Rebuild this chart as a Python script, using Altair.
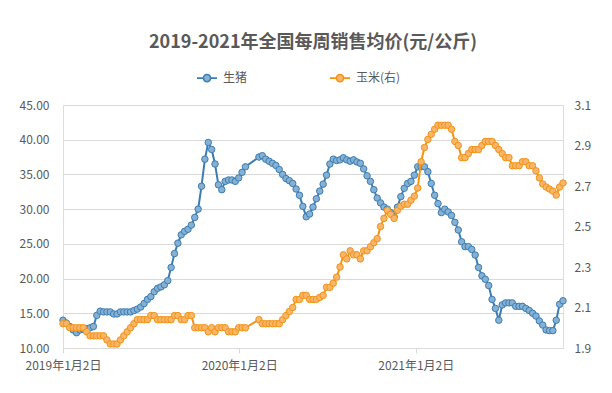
import altair as alt
import pandas as pd

# weekly observation dates (x categories)
start_date = "2019-01-02"
n_weeks = 149
week_dates = pd.date_range(start_date, periods=n_weeks, freq="7D").strftime("%Y-%m-%dT00:00:00").tolist()

# 生猪 (元/公斤), None = no observation that week
pig = [
    14.0, 13.6, 13.1, 12.6, 12.2, 12.6, 12.7, 12.8, 12.9, 13.1,
    14.7, 15.3, 15.2, 15.2, 15.2, 14.9, 14.9, 15.2, 15.2, 15.2,
    15.2, 15.4, 15.6, 15.9, 16.4, 17.0, 17.4, 18.1, 18.6, 18.8,
    19.1, 19.7, 21.6, 23.6, 25.1, 26.3, 26.8, 27.1, 27.7, 28.8,
    30.0, 33.3, 37.2, 39.6, 38.6, 36.5, 33.5, 32.8, 34.0, 34.2,
    34.2, 34.0, 34.5, 35.3, 36.1, None, None, None, 37.5, 37.7,
    37.2, 36.9, 36.6, 36.3, 35.7, 35.0, 34.4, 34.1, 33.7, 32.9,
    32.0, 30.4, 28.9, 29.3, 30.3, 31.5, 32.6, 33.6, 34.9, 36.5,
    37.2, 37.0, 37.1, 37.4, 37.1, 36.9, 37.1, 36.8, 36.6, 35.8,
    34.8, 34.0, 32.8, 31.6, 30.9, 30.3, 30.0, 29.5, 28.9, 30.3,
    31.8, 33.0, 33.7, 34.0, 34.9, 36.1, 36.1, 36.1, 35.4, 33.7,
    32.0, 30.8, 29.5, 30.0, 29.6, 29.1, 28.1, 27.0, 25.3, 24.6,
    24.6, 24.2, 23.4, 21.6, 20.4, 19.9, 19.0, 17.0, 15.7, 14.0,
    16.2, 16.5, 16.5, 16.5, 16.0, 16.0, 16.0, 15.7, 15.4, 15.0,
    14.6, 13.9, 13.3, 12.6, 12.5, 12.5, 14.0, 16.3, 16.8,
]

# 玉米 (元/公斤), right axis
corn = [
    2.02, 2.02, 2.00, 2.00, 2.00, 2.00, 2.00, 1.98, 1.96, 1.96,
    1.96, 1.96, 1.96, 1.94, 1.92, 1.92, 1.92, 1.94, 1.96, 1.98,
    2.00, 2.02, 2.04, 2.04, 2.04, 2.04, 2.06, 2.06, 2.04, 2.04,
    2.04, 2.04, 2.04, 2.06, 2.06, 2.04, 2.04, 2.06, 2.06, 2.00,
    2.00, 2.00, 2.00, 1.98, 2.00, 1.98, 2.00, 2.00, 2.00, 1.98,
    1.98, 1.98, 2.00, 2.00, 2.00, None, None, None, 2.04, 2.02,
    2.02, 2.02, 2.02, 2.02, 2.02, 2.04, 2.06, 2.08, 2.10, 2.14,
    2.14, 2.16, 2.16, 2.14, 2.14, 2.14, 2.15, 2.16, 2.20, 2.20,
    2.22, 2.25, 2.30, 2.36, 2.34, 2.38, 2.36, 2.36, 2.34, 2.38,
    2.38, 2.40, 2.42, 2.44, 2.50, 2.54, 2.58, 2.56, 2.54, 2.58,
    2.60, 2.61, 2.61, 2.63, 2.65, 2.69, 2.82, 2.89, 2.93, 2.955,
    2.98, 3.00, 3.00, 3.00, 3.00, 2.98, 2.92, 2.90, 2.84, 2.84,
    2.86, 2.88, 2.88, 2.88, 2.90, 2.92, 2.92, 2.92, 2.90, 2.88,
    2.86, 2.84, 2.84, 2.80, 2.80, 2.80, 2.82, 2.82, 2.80, 2.80,
    2.775, 2.74, 2.71, 2.695, 2.685, 2.675, 2.655, 2.695, 2.715,
]

series_names = ["生猪", "玉米(右)"]
line_colors = ["#3B7DB1", "#F39312"]
marker_fills = ["#86B1D4", "#F8B56C"]
x_tick_dates = [(2019, 1, 2), (2020, 1, 2), (2021, 1, 2)]
left_ticks = [10, 15, 20, 25, 30, 35, 40, 45]
right_ticks = [1.9, 2.1, 2.3, 2.5, 2.7, 2.9, 3.1]
title_text = "2019-2021年全国每周销售均价(元/公斤)"

FONT = "Noto Sans CJK SC"
GREY = "#595959"
GRID = "#D9D9D9"

pig_df = pd.DataFrame({"date": week_dates, "v": pig}).dropna()
pig_df["series"] = series_names[0]
corn_df = pd.DataFrame({"date": week_dates, "v": corn}).dropna()
corn_df["series"] = series_names[1]

legend_symbol = ("M-1,0L-0.36,0M0.36,0L1,0"
                 "M-0.36,0A0.36,0.36,0,1,1,0.36,0A0.36,0.36,0,1,1,-0.36,0Z")
legend = alt.Legend(
    title=None, orient="none", legendX=133, legendY=-38, direction="horizontal",
    symbolType=legend_symbol, symbolSize=400, symbolStrokeWidth=1.6,
    labelFontSize=12, labelColor=GREY, labelFont=FONT, labelOffset=5,
    columnPadding=78, padding=0,
)

x_enc = alt.X(
    "date:T",
    scale=alt.Scale(domain=[alt.DateTime(year=2019, month=1, date=2),
                            alt.DateTime(year=2021, month=11, date=3)]),
    axis=alt.Axis(
        values=[alt.DateTime(year=y, month=m, date=d) for (y, m, d) in x_tick_dates],
        format="%Y年%-m月%-d日", title=None, grid=False, labelFlush=False,
        labelOverlap=False, domainColor=GRID, tickColor=GRID, tickSize=5,
        labelColor=GREY, labelFontSize=12, labelFont=FONT, labelPadding=7,
    ),
)

stroke_enc = alt.Stroke("series:N", scale=alt.Scale(domain=series_names, range=line_colors),
                        legend=legend)
fill_enc = alt.Fill("series:N", scale=alt.Scale(domain=series_names, range=marker_fills),
                    legend=legend)

y_pig = alt.Y(
    "v:Q", scale=alt.Scale(domain=[10, 45], nice=False, zero=False),
    axis=alt.Axis(values=left_ticks, format=".2f", title=None, orient="left",
                  grid=True, gridColor=GRID, domain=False, ticks=False,
                  labelPadding=14, labelColor=GREY, labelFontSize=12, labelFont=FONT),
)
y_corn = alt.Y(
    "v:Q", scale=alt.Scale(domain=[1.9, 3.1], nice=False, zero=False),
    axis=alt.Axis(values=right_ticks, format=".1f", title=None, orient="right",
                  grid=False, domain=False, ticks=False,
                  labelPadding=11, labelColor=GREY, labelFontSize=12, labelFont=FONT),
)

def series_layer(df, y_enc):
    base = alt.Chart(df)
    line = base.mark_line(strokeWidth=2).encode(x=x_enc, y=y_enc, stroke=stroke_enc)
    pts = base.mark_point(shape="circle", filled=True, size=42, strokeWidth=1, opacity=1).encode(
        x=x_enc, y=y_enc, stroke=stroke_enc, fill=fill_enc)
    return alt.layer(line, pts)

chart = alt.layer(
    series_layer(pig_df, y_pig),
    series_layer(corn_df, y_corn),
).resolve_scale(y="independent").properties(
    width=500, height=243,
    autosize=alt.AutoSizeParams(type="none"),
    padding={"left": 55, "top": 97, "right": 41, "bottom": 37},
    title=alt.TitleParams(title_text, fontSize=18, fontWeight="bold", color=GREY,
                          font=FONT, anchor="middle", offset=15),
).configure_view(stroke=None).configure(background="white")

chart.save("out.html", embed_options={"renderer": "svg", "actions": False})
